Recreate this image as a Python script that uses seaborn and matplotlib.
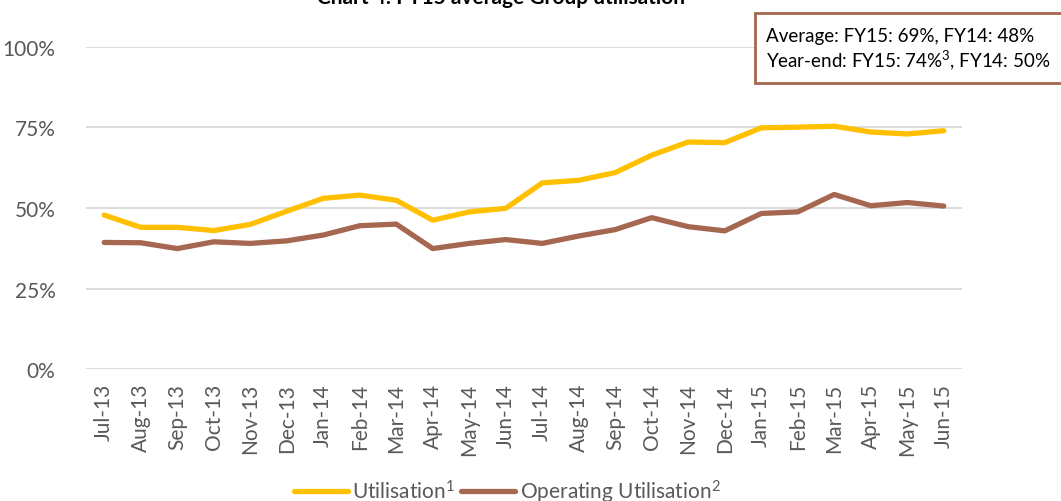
import matplotlib
matplotlib.use("Agg")
import matplotlib.pyplot as plt
import seaborn as sns
import pandas as pd
import numpy as np
from matplotlib.patches import Rectangle

months = ["Jul-13", "Aug-13", "Sep-13", "Oct-13", "Nov-13", "Dec-13", "Jan-14", "Feb-14",
          "Mar-14", "Apr-14", "May-14", "Jun-14", "Jul-14", "Aug-14", "Sep-14", "Oct-14",
          "Nov-14", "Dec-14", "Jan-15", "Feb-15", "Mar-15", "Apr-15", "May-15", "Jun-15"]
utilisation = [47.8, 44.0, 44.0, 43.0, 44.9, 49.0, 53.0, 54.0, 52.4, 46.2, 48.8, 49.9,
               57.8, 58.6, 61.0, 66.4, 70.5, 70.3, 74.9, 75.1, 75.4, 73.6, 73.0, 74.0]
operating = [39.3, 39.2, 37.4, 39.5, 39.0, 39.8, 41.6, 44.5, 45.0, 37.4, 39.0, 40.2,
             39.0, 41.3, 43.3, 47.0, 44.2, 42.9, 48.3, 48.8, 54.2, 50.7, 51.7, 50.6]
series_names = ["Utilisation$^{1}$", "Operating Utilisation$^{2}$"]
colors = ["#FFC000", "#A5674F"]
yticks = [0, 25, 50, 75, 100]
ytick_labels = ["0%", "25%", "50%", "75%", "100%"]
title = "Chart 4: FY15 average Group utilisation"
box_lines = ["Average: FY15: 69%, FY14: 48%", "Year-end: FY15: 74%$^{3}$, FY14: 50%"]

sns.set_theme(style="white")
plt.rcParams["font.family"] = ["Lato", "DejaVu Sans"]
plt.rcParams["mathtext.fontset"] = "custom"
plt.rcParams["mathtext.rm"] = "Lato"
plt.rcParams["mathtext.it"] = "Lato"

df = pd.DataFrame({
    "idx": list(range(len(months))) * 2,
    "value": utilisation + operating,
    "series": [series_names[0]] * len(months) + [series_names[1]] * len(months),
})

fig = plt.figure(figsize=(10.61, 5.02), dpi=100)
ax = fig.add_axes([86 / 1061, 1 - 370 / 502, (962 - 86) / 1061, (370 - 48) / 502])

sns.lineplot(data=df, x="idx", y="value", hue="series", palette=colors,
             linewidth=3.8, ax=ax, legend=False, solid_capstyle="round",
             solid_joinstyle="round")

ax.set_xlim(-0.5, len(months) - 0.5)
ax.set_ylim(0, 100)
ax.set_yticks(yticks)
ax.set_yticklabels(ytick_labels)
ax.set_xticks(range(len(months)))
ax.set_xticklabels(months, rotation=90)
ax.tick_params(axis="both", length=0, labelsize=15, labelcolor="#595959")
ax.tick_params(axis="y", pad=22)
ax.tick_params(axis="x", pad=10)
ax.yaxis.grid(True, color="#D9D9D9", linewidth=1.3)
ax.set_axisbelow(True)
for s in ax.spines.values():
    s.set_visible(False)
ax.set_xlabel("")
ax.set_ylabel("")

fig.text(501 / 1061, 1 - 4 / 502, title, ha="center", va="baseline",
         fontsize=15, fontweight="bold", color="black")

rect = Rectangle((755 / 1061, 1 - 84 / 502), 320 / 1061, 70 / 502,
                 transform=fig.transFigure, facecolor="white",
                 edgecolor="#A5674F", linewidth=2, zorder=5)
fig.add_artist(rect)
fig.text(766 / 1061, 1 - 42 / 502, box_lines[0], ha="left", va="baseline",
         fontsize=13.5, color="black", zorder=6)
fig.text(766 / 1061, 1 - 67 / 502, box_lines[1], ha="left", va="baseline",
         fontsize=13.5, color="black", zorder=6)

handles = [plt.Line2D([], [], color=c, linewidth=3.8) for c in colors]
fig.legend(handles, series_names, loc="lower center", bbox_to_anchor=(0.478, -0.045),
           ncol=2, frameon=False, fontsize=15, labelcolor="#595959",
           handlelength=2.6, handletextpad=0.2, columnspacing=0.3)

fig.savefig("out.png", dpi=100)
